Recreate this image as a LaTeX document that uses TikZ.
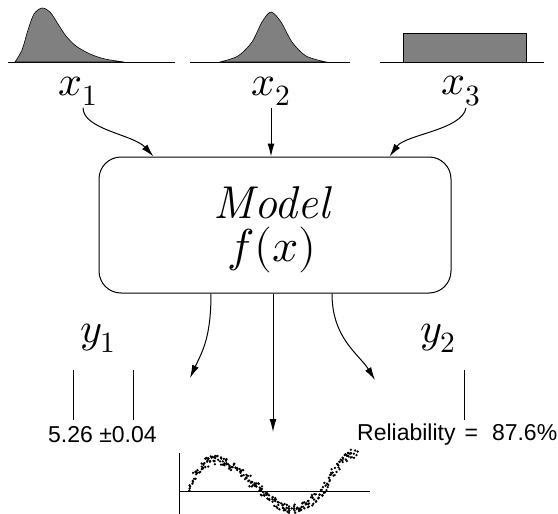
\documentclass[tikz,border=0pt]{standalone}
\usepackage{fontspec}
\usepackage{unicode-math}
\setsansfont{Liberation Sans}
\usetikzlibrary{arrows.meta}
\tikzset{
  dist/.style={draw=black, line width=0.6pt, fill=black!50},
  axisline/.style={line width=0.7pt},
  varlabel/.style={font=\fontsize{42}{44}\selectfont, inner sep=2pt},
  modelbox/.style={draw, line width=1pt, rounded corners=22pt, minimum width=352pt, minimum height=136pt},
  boxtext/.style={font=\fontsize{46}{43}\selectfont, align=center, inner sep=0pt},
  flow/.style={line width=1pt, -{Latex[length=13pt,width=7pt]}},
  result/.style={font=\fontsize{23}{26}\selectfont\sffamily, inner sep=0pt, anchor=west},
  bar/.style={line width=1pt}
}
\begin{document}
\begin{tikzpicture}[x=1pt, y=-1pt]
\useasboundingbox (0,0) rectangle (558,514);
\draw[axisline] (8,62) -- (175,62);
\draw[dist] plot[smooth] coordinates {(15,62) (22,50) (28,30) (34,14) (42,8) (50,12) (58,24) (66,36) (76,46) (90,54) (105,59) (124,62)} -- cycle;
\draw[axisline] (190,62) -- (350,62);
\draw[dist] plot[smooth] coordinates {(220,62) (238,56) (252,42) (262,22) (271,12) (281,22) (292,42) (306,56) (326,62)} -- cycle;
\draw[axisline] (380,62) -- (544,62);
\draw[dist] (403,33) rectangle (526,62);
\node[varlabel] (xa) at (78,91) {$x_1$};
\node[varlabel] (xb) at (271,91) {$x_2$};
\node[varlabel] (xc) at (461,91) {$x_3$};
\node[modelbox] (model) at (275,225) {};
\node[boxtext] (modeltext) at (272,230) {{\addfontfeature{LetterSpace=5}\itshape Model}\\$f(x)$};
\draw[flow] ([xshift=5pt]xa.south) .. controls +(0,22) and +(-20,-22) .. ([xshift=55pt]model.north west);
\draw[flow] (xb.south) -- (xb.south |- model.north);
\draw[flow] ([xshift=5pt]xc.south) .. controls +(-4,22) and +(16,-22) .. ([xshift=-62pt]model.north east);
\coordinate (tipa) at (190,378);
\coordinate (tipb) at (375,380);
\coordinate (tipc) at (273,432);
\draw[flow] ([xshift=-64pt]model.south) .. controls +(0,45) and +(12,-26) .. (tipa);
\draw[flow] ([xshift=57pt]model.south) .. controls +(0,45) and +(-16,-26) .. (tipb);
\draw[flow] (tipc |- model.south) -- (tipc);
\node[varlabel] (ya) at (98,338) {$y_1$};
\node[varlabel] (yb) at (438,338) {$y_2$};
\draw[bar] (73,370) -- (73,420);
\draw[bar] (133,370) -- (133,420);
\draw[bar] (464,370) -- (464,420);
\node[result] (ra) at (48,435) {5.26 ±0.04};
\node[result] (rb) at (357,435) {Reliability\hspace{9pt}=\hspace{14pt}87.6\%};
\draw[axisline] (179,453) -- (179,514);
\draw[axisline] (179,491) -- (370,491);
\pgfmathsetseed{7}
\foreach \i in {0,...,260} {
  \pgfmathsetmacro{\px}{189+0.6423*\i}
  \pgfmathsetmacro{\t}{\px<261 ? 180*((\px-189)/72)^0.7 : 180+(\px-261)/62*180}
  \pgfmathsetmacro{\s}{sin(\t)}
  \pgfmathsetmacro{\amp}{\s<0 ? 18 : (\px<261 ? 31 : 37)}
  \pgfmathsetmacro{\py}{491-\amp*(\s)+4.5*rand}
  \fill (\px+2*rand,\py) circle (1.3pt);
}
\end{tikzpicture}
\end{document}
